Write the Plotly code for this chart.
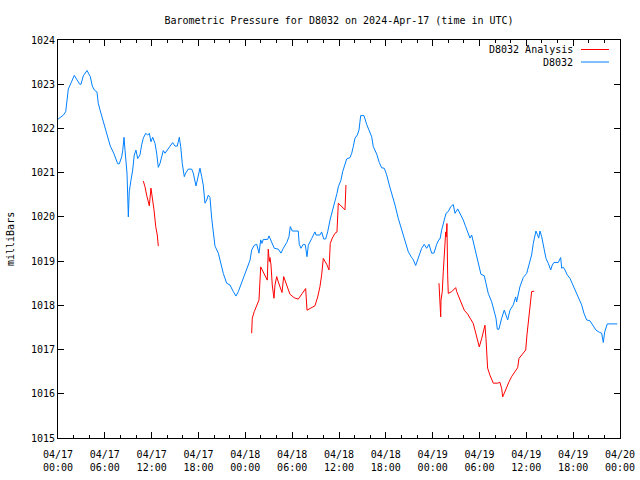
import pandas as pd
import plotly.graph_objects as go

# Hours after 2024-04-17 00:00 UTC and pressure (mbar)
station_hours = [0.00, 0.68, 0.99, 1.19, 1.32, 1.67, 2.09, 2.43, 2.78, 2.95, 3.24, 3.72, 4.14, 4.39, 4.65,
    5.00, 5.16, 5.38, 5.85, 6.28, 6.70, 7.14, 7.65, 7.85, 8.16, 8.29, 8.46, 8.54, 8.71, 8.84,
    9.01, 9.13, 9.35, 9.57, 9.77, 9.99, 10.21, 10.50, 10.72, 10.93, 11.24, 11.49, 11.70, 11.91, 12.13,
    12.34, 12.43, 12.64, 12.85, 13.07, 13.28, 13.49, 13.71, 14.13, 14.69, 14.99, 15.28, 15.54, 15.72, 15.92,
    16.18, 16.36, 16.69, 17.13, 17.33, 17.68, 17.97, 18.19, 18.41, 18.61, 18.83, 19.05, 19.25, 19.47, 19.69,
    19.90, 20.11, 20.54, 20.84, 21.18, 21.61, 22.03, 22.46, 22.80, 23.10, 23.41, 23.74, 24.17, 24.60, 24.81,
    25.15, 25.46, 25.66, 25.75, 25.97, 26.13, 26.30, 26.86, 27.03, 27.38, 27.71, 28.22, 28.57, 28.86, 29.30,
    29.59, 29.76, 30.02, 30.78, 30.91, 31.13, 31.42, 31.68, 31.90, 32.07, 32.50, 32.92, 33.05, 33.56, 33.78,
    34.04, 34.29, 34.55, 34.85, 35.14, 35.49, 35.74, 35.91, 36.25, 36.47, 36.77, 36.98, 37.41, 37.63, 37.83,
    38.05, 38.34, 38.56, 38.78, 39.20, 39.55, 39.88, 40.19, 40.39, 40.83, 41.16, 41.47, 41.80, 42.11, 42.44,
    42.83, 43.17, 43.59, 44.03, 44.45, 44.88, 45.31, 45.52, 45.82, 46.16, 46.37, 46.59, 46.92, 47.23, 47.53,
    47.87, 48.17, 48.51, 48.81, 48.94, 49.15, 49.36, 49.71, 50.00, 50.31, 50.64, 50.86, 51.21, 51.50, 51.92,
    52.23, 52.56, 52.78, 53.00, 53.20, 53.51, 53.84, 54.19, 54.61, 54.92, 55.12, 55.56, 55.89, 56.11, 56.28,
    56.49, 56.84, 57.17, 57.39, 57.61, 57.90, 58.33, 58.63, 58.76, 59.18, 59.61, 60.04, 60.47, 60.68, 60.89,
    61.11, 61.23, 61.40, 61.58, 61.75, 61.97, 62.26, 62.52, 62.81, 63.12, 63.32, 63.54, 64.09, 64.40, 64.53,
    64.73, 64.95, 65.24, 65.59, 65.94, 66.23, 66.65, 67.09, 67.38, 67.73, 68.15, 68.50, 68.92, 69.35, 69.65,
    69.86, 70.04, 70.37, 71.65]
station_mbar = [1022.21, 1022.30, 1022.38, 1022.72, 1022.89, 1023.03, 1023.20, 1023.10, 1023.00, 1023.00, 1023.19, 1023.31, 1023.17, 1022.96, 1022.87,
    1022.82, 1022.57, 1022.42, 1022.12, 1021.87, 1021.60, 1021.44, 1021.20, 1021.20, 1021.36, 1021.50, 1021.80, 1021.60, 1021.25, 1020.99,
    1020.00, 1020.57, 1020.83, 1021.06, 1021.40, 1021.51, 1021.32, 1021.40, 1021.63, 1021.78, 1021.89, 1021.85, 1021.89, 1021.70, 1021.80,
    1021.72, 1021.66, 1021.44, 1021.12, 1021.21, 1021.36, 1021.50, 1021.44, 1021.55, 1021.68, 1021.60, 1021.60, 1021.80, 1021.59, 1021.21,
    1020.91, 1020.99, 1021.08, 1021.08, 1020.99, 1020.70, 1020.95, 1021.10, 1020.91, 1020.72, 1020.31, 1020.38, 1020.49, 1020.44, 1019.97,
    1019.63, 1019.34, 1019.18, 1018.95, 1018.72, 1018.50, 1018.46, 1018.31, 1018.21, 1018.31, 1018.46, 1018.61, 1018.80, 1019.02, 1019.25,
    1019.36, 1019.38, 1019.21, 1019.18, 1019.48, 1019.40, 1019.49, 1019.49, 1019.57, 1019.40, 1019.29, 1019.27, 1019.18, 1019.29, 1019.42,
    1019.55, 1019.78, 1019.68, 1019.68, 1019.38, 1019.29, 1019.38, 1019.37, 1019.10, 1019.36, 1019.51, 1019.66, 1019.59, 1019.59, 1019.66,
    1019.50, 1019.50, 1019.66, 1019.93, 1020.12, 1020.34, 1020.53, 1020.68, 1020.83, 1021.02, 1021.17, 1021.31, 1021.34, 1021.44, 1021.59,
    1021.78, 1021.85, 1021.96, 1022.29, 1022.29, 1022.09, 1021.93, 1021.81, 1021.59, 1021.42, 1021.23, 1021.11, 1021.10, 1020.95, 1020.72,
    1020.49, 1020.27, 1019.97, 1019.70, 1019.48, 1019.21, 1019.08, 1019.03, 1018.90, 1019.06, 1019.18, 1019.29, 1019.38, 1019.29, 1019.38,
    1019.18, 1019.18, 1019.38, 1019.49, 1019.50, 1019.70, 1019.85, 1020.08, 1020.12, 1020.23, 1020.28, 1020.08, 1020.18, 1020.08, 1019.93,
    1019.78, 1019.59, 1019.52, 1019.59, 1019.44, 1019.25, 1019.02, 1018.70, 1018.67, 1018.46, 1018.27, 1018.08, 1017.86, 1017.71, 1017.46,
    1017.46, 1017.71, 1017.89, 1017.78, 1017.67, 1017.89, 1018.01, 1018.19, 1018.08, 1018.42, 1018.63, 1018.72, 1018.99, 1019.14, 1019.40,
    1019.59, 1019.68, 1019.61, 1019.52, 1019.68, 1019.55, 1019.29, 1019.06, 1018.95, 1018.80, 1018.91, 1018.97, 1018.97, 1019.08, 1018.84,
    1018.86, 1018.80, 1018.69, 1018.61, 1018.46, 1018.35, 1018.20, 1018.01, 1017.82, 1017.67, 1017.65, 1017.56, 1017.44, 1017.39, 1017.37,
    1017.16, 1017.40, 1017.58, 1017.58]

# Analysis runs (None separates the three runs)
analysis_hours = [10.93, 11.15, 11.36, 11.57, 11.70, 11.91, 12.13, 12.30, 12.52, 12.72, 12.85, None,
    24.81, 24.89, 25.15, 25.46, 25.75, 25.97, 26.30, 26.61, 26.81, 26.94, 27.07, 27.16, 27.29, 27.45, 27.67,
    27.80, 28.02, 28.22, 28.48, 28.70, 28.91, 29.17, 29.43, 29.72, 30.27, 30.78, 31.30, 31.73, 31.90, 32.41,
    32.92, 33.27, 33.56, 33.78, 33.99, 34.42, 34.72, 34.88, 35.14, 35.49, 35.74, 35.91, 36.34, 36.77, 36.89, None,
    48.81, 48.94, 49.03, 49.07, 49.23, 49.36, 49.49, 49.67, 49.74, 49.83, 49.92, 50.00, 50.44, 50.77, 50.95,
    51.08, 51.37, 51.72, 52.05, 52.49, 52.91, 53.20, 53.42, 53.77, 53.97, 54.28, 54.61, 54.70, 54.83, 54.92,
    55.04, 55.34, 55.77, 56.33, 56.62, 56.84, 56.97, 57.17, 57.48, 57.78, 58.12, 58.55, 58.89, 59.06, 59.48,
    59.92, 60.08, 60.25, 60.47, 60.68, 61.01]
analysis_mbar = [1020.81, 1020.68, 1020.49, 1020.34, 1020.25, 1020.65, 1020.38, 1020.16, 1019.78, 1019.59, 1019.34, None,
    1017.37, 1017.71, 1017.86, 1018.01, 1018.12, 1018.87, 1018.76, 1018.65, 1018.57, 1019.27, 1018.99, 1019.08, 1018.91, 1018.46, 1018.16,
    1018.46, 1018.65, 1018.53, 1018.42, 1018.29, 1018.65, 1018.53, 1018.42, 1018.25, 1018.17, 1018.14, 1018.27, 1018.38, 1017.89, 1017.95,
    1017.99, 1018.19, 1018.42, 1018.69, 1019.06, 1018.93, 1018.80, 1019.40, 1019.52, 1019.63, 1019.66, 1020.31, 1020.23, 1020.16, 1020.72, None,
    1018.50, 1017.97, 1017.74, 1018.12, 1018.31, 1018.76, 1019.14, 1019.66, 1019.55, 1019.85, 1018.69, 1018.27, 1018.31, 1018.37, 1018.40,
    1018.31, 1018.19, 1018.05, 1017.89, 1017.80, 1017.69, 1017.59, 1017.44, 1017.22, 1017.06, 1017.25, 1017.48, 1017.55, 1017.25, 1016.88,
    1016.58, 1016.42, 1016.24, 1016.24, 1016.26, 1016.12, 1015.93, 1016.01, 1016.16, 1016.27, 1016.39, 1016.50, 1016.59, 1016.80, 1016.89,
    1016.99, 1017.33, 1017.59, 1017.93, 1018.31, 1018.32]

tick_hours = [0, 6, 12, 18, 24, 30, 36, 42, 48, 54, 60, 66, 72]
tick_labels = ["04/17<br>00:00", "04/17<br>06:00", "04/17<br>12:00", "04/17<br>18:00",
               "04/18<br>00:00", "04/18<br>06:00", "04/18<br>12:00", "04/18<br>18:00",
               "04/19<br>00:00", "04/19<br>06:00", "04/19<br>12:00", "04/19<br>18:00",
               "04/20<br>00:00"]
y_ticks = [1015, 1016, 1017, 1018, 1019, 1020, 1021, 1022, 1023, 1024]

t0 = pd.Timestamp("2024-04-17 00:00")
def to_time(hs):
    return [None if h is None else t0 + pd.Timedelta(hours=h) for h in hs]

FONT = "DejaVu Sans Mono"
fig = go.Figure()
fig.add_trace(go.Scatter(x=to_time(analysis_hours), y=analysis_mbar, mode="lines",
                         line=dict(color="#ff0000", width=1), name="D8032 Analysis",
                         connectgaps=False, showlegend=False))
fig.add_trace(go.Scatter(x=to_time(station_hours), y=station_mbar, mode="lines",
                         line=dict(color="#0080ff", width=1), name="D8032", showlegend=False))

axis_common = dict(showline=True, linecolor="black", linewidth=1, mirror="allticks",
                   ticks="inside", tickcolor="black", showgrid=False, zeroline=False,
                   automargin=False,
                   tickfont=dict(family=FONT, size=10, color="black"))
fig.update_xaxes(type="date", range=[t0, t0 + pd.Timedelta(hours=72)],
                 tickvals=to_time(tick_hours), ticktext=tick_labels, ticklen=6,
                 ticklabelstandoff=7,
                 minor=dict(dtick=2 * 3600 * 1000, ticks="inside", ticklen=3, tickcolor="black"),
                 **axis_common)
fig.update_yaxes(range=[1015, 1024], tickvals=y_ticks, ticktext=[str(v) for v in y_ticks],
                 ticklen=6, **axis_common)

# legend in gnuplot style (text, then line sample)
legend_items = [("D8032 Analysis", "#ff0000"), ("D8032", "#0080ff")]
for i, (label, col) in enumerate(legend_items):
    ypx = 49.5 + 12.5 * i
    yp = (438 - ypx) / 398
    fig.add_annotation(x=(575 - 58) / 562, y=yp, xref="paper", yref="paper", text=label,
                       showarrow=False, xanchor="right", yanchor="middle",
                       font=dict(family=FONT, size=10, color="black"))
    fig.add_shape(type="line", xref="paper", yref="paper", x0=(581 - 58) / 562, x1=(609 - 58) / 562,
                  y0=yp, y1=yp, line=dict(color=col, width=1))

fig.add_annotation(x=(10 - 58) / 562, y=0.5, xref="paper", yref="paper", text="milliBars",
                   textangle=-90, showarrow=False, xanchor="center", yanchor="middle",
                   font=dict(family=FONT, size=10, color="black"))

fig.update_layout(
    width=640, height=480,
    margin=dict(l=58, r=20, t=40, b=42),
    paper_bgcolor="white", plot_bgcolor="white",
    title=dict(text="Barometric Pressure for D8032 on 2024-Apr-17 (time in UTC)",
               x=(339) / 640, xanchor="center", y=1 - 20 / 480, yanchor="middle",
               font=dict(family=FONT, size=10, color="black")),
    showlegend=False,
)
fig.write_html("out.html", config={"responsive": False, "displayModeBar": False},
               post_script="document.body.style.margin='0';document.body.style.padding='0';")
